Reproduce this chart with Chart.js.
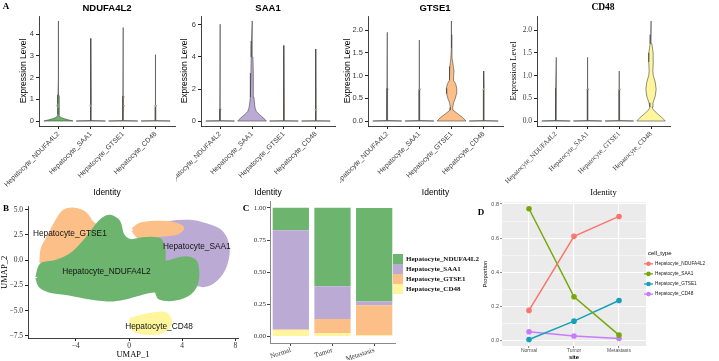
<!DOCTYPE html>
<html>
<head>
<meta charset="utf-8">
<title>Hepatocyte subclusters</title>
<script src="https://cdn.jsdelivr.net/npm/chart.js@4.4.1/dist/chart.umd.min.js"></script>
<style>
  body { margin: 0; background: #fff; }
  #fig { position: relative; width: 719px; height: 361px; overflow: hidden; }
  #fig canvas { position: absolute; }
  .txt { position: absolute; transform: translate(-50%, -50%); white-space: nowrap; color: #000; }
  .letter { font: bold 9px "Liberation Serif", "Times New Roman", serif; }
  .gtitle { font: bold 9.5px "Liberation Sans", Arial, sans-serif; }
  .gtitle.serif { font: bold 9.5px "Liberation Serif", "Times New Roman", serif; }
  #legC { position: absolute; left: 393px; top: 254px; font: bold 7px "Liberation Serif", "Times New Roman", serif; color: #111; }
  #legC div { height: 10px; display: flex; align-items: center; }
  #legC span { display: inline-block; width: 10px; height: 9.5px; margin-right: 3px; }
</style>
</head>
<body>
<div id="fig">
  <canvas id="vA1" width="176" height="200" style="left:0;top:0"></canvas>
  <canvas id="vA2" width="164" height="200" style="left:176px;top:0"></canvas>
  <canvas id="vA3" width="165" height="200" style="left:340px;top:0"></canvas>
  <canvas id="vA4" width="214" height="200" style="left:505px;top:0"></canvas>
  <canvas id="umap" width="245" height="161" style="left:0;top:200px"></canvas>
  <canvas id="bars" width="155" height="166" style="left:245px;top:195px"></canvas>
  <canvas id="lines" width="241" height="166" style="left:478px;top:195px"></canvas>

  <div class="txt letter" style="left:6px;top:6px">A</div>
  <div class="txt letter" style="left:6px;top:208px">B</div>
  <div class="txt letter" style="left:246px;top:208px">C</div>
  <div class="txt letter" style="left:481px;top:212px">D</div>

  <div class="txt gtitle" style="left:107px;top:7px">NDUFA4L2</div>
  <div class="txt gtitle" style="left:268px;top:7px">SAA1</div>
  <div class="txt gtitle" style="left:435px;top:7px">GTSE1</div>
  <div class="txt gtitle serif" style="left:603px;top:7px">CD48</div>

  <div id="legC"></div>
</div>

<script>
const SANS = '"Liberation Sans", Arial, sans-serif';
const SERIF = '"Liberation Serif", "Times New Roman", serif';

const cellTypes = ['Hepatocyte_NDUFA4L2', 'Hepatocyte_SAA1', 'Hepatocyte_GTSE1', 'Hepatocyte_CD48'];
const cellColors = ['#6DB46F', '#BBAAD4', '#FBBF87', '#FFF59C'];
const lineColors = ['#F8766D', '#76A80A', '#17A0BA', '#C77CFF'];
const sites = ['Normal', 'Tumor', 'Metastasis'];

// proportion of each hepatocyte subcluster per site (panel C and D)
const propNDUFA4L2 = [0.175, 0.61, 0.727];
const propSAA1 = [0.772, 0.255, 0.03];
const propGTSE1 = [0.004, 0.112, 0.233];
const propCD48 = [0.05, 0.025, 0.01];

// violin outlines: expression levels and relative half-widths, one row per identity
const ndufa4l2Levels = [
  [0, 0.05, 0.1, 0.15, 0.2, 0.3, 0.6, 0.7, 0.8, 1.0, 1.1, 1.2, 2.0, 3.0, 4.6],
  [0, 0.02, 0.65, 0.7, 0.75, 3.8],
  [0, 0.02, 0.65, 0.7, 0.75, 1.05, 1.1, 1.15, 4.3],
  [0, 0.02, 0.65, 0.7, 0.75, 3.05]
];
const ndufa4l2Widths = [
  [1, 0.7, 0.42, 0.22, 0.1, 0.04, 0.04, 0.1, 0.04, 0.04, 0.08, 0.03, 0.025, 0.02, 0],
  [1, 0.02, 0.02, 0.06, 0.02, 0],
  [1, 0.02, 0.02, 0.08, 0.02, 0.02, 0.07, 0.02, 0],
  [1, 0.02, 0.02, 0.06, 0.02, 0]
];
const saa1Levels = [
  [0, 0.02, 0.65, 0.7, 0.75, 6.05],
  [0, 0.1, 0.2, 0.3, 0.4, 0.5, 0.6, 0.8, 1.0, 1.5, 2.0, 3.0, 4.0, 5.0, 6.25],
  [0, 0.02, 0.65, 0.7, 0.75, 4.72],
  [0, 0.02, 0.65, 0.7, 0.75, 1.05, 1.1, 1.15, 4.5]
];
const saa1Widths = [
  [1, 0.02, 0.02, 0.06, 0.02, 0],
  [1, 0.9, 0.78, 0.65, 0.52, 0.4, 0.3, 0.22, 0.18, 0.13, 0.1, 0.08, 0.06, 0.04, 0],
  [1, 0.02, 0.02, 0.06, 0.02, 0],
  [1, 0.02, 0.02, 0.06, 0.02, 0.02, 0.05, 0.02, 0]
];
const gtse1Levels = [
  [0, 0.01, 0.68, 0.7, 0.72, 1.95],
  [0, 0.01, 0.68, 0.7, 0.72, 1.78],
  [0, 0.08, 0.16, 0.24, 0.3, 0.4, 0.5, 0.6, 0.72, 0.82, 0.9, 1.0, 1.1, 1.2, 1.35, 1.6, 1.9, 2.2],
  [0, 0.01, 0.68, 0.7, 0.72, 1.1]
];
const gtse1Widths = [
  [1, 0.02, 0.02, 0.06, 0.02, 0],
  [1, 0.02, 0.02, 0.06, 0.02, 0],
  [1, 0.75, 0.42, 0.1, 0.08, 0.14, 0.26, 0.34, 0.36, 0.28, 0.12, 0.14, 0.17, 0.12, 0.06, 0.03, 0.015, 0],
  [1, 0.02, 0.02, 0.06, 0.02, 0]
];
const cd48Levels = [
  [0, 0.01, 0.68, 0.7, 0.72, 1.4],
  [0, 0.01, 0.68, 0.7, 0.72, 1.4],
  [0, 0.01, 0.68, 0.7, 0.72, 1.1],
  [0, 0.08, 0.16, 0.25, 0.31, 0.4, 0.55, 0.7, 0.85, 1.0, 1.1, 1.3, 1.5, 1.7, 1.9, 2.2]
];
const cd48Widths = [
  [1, 0.02, 0.02, 0.06, 0.02, 0],
  [1, 0.02, 0.02, 0.06, 0.02, 0],
  [1, 0.02, 0.02, 0.06, 0.02, 0],
  [1, 0.75, 0.45, 0.15, 0.08, 0.14, 0.3, 0.36, 0.3, 0.16, 0.13, 0.16, 0.15, 0.06, 0.02, 0]
];
const ndufa4l2Ticks = [0, 1, 2, 3, 4];
const saa1Ticks = [0, 2, 4, 6];
const gtse1Ticks = [0, 0.5, 1, 1.5, 2];
const cd48Ticks = [0, 0.5, 1, 1.5, 2];

// UMAP cluster outlines (UMAP_1, UMAP_2)
const umapNDUFA4L2 = [[-6.9,-1.7],[-6.6,-0.5],[-5.6,-0.2],[-4.8,0.2],[-4.1,0.8],[-3.3,1.9],[-2.6,3.1],[-2.0,4.0],[-1.4,4.3],[-0.8,3.8],[-0.5,2.5],[0.1,1.9],[1.2,2.1],[2.3,2.0],[2.6,1.0],[2.7,-0.2],[4.2,0.2],[5.0,-0.2],[5.1,-2.0],[4.6,-3.2],[3.5,-3.8],[2.3,-3.7],[2.0,-3.0],[0.8,-3.3],[-0.3,-3.7],[-1.4,-3.9],[-2.9,-3.7],[-4.5,-3.3],[-6.0,-3.0],[-6.7,-2.5],[-6.9,-1.7]];
const umapSAA1 = [[1.6,1.9],[2.0,3.1],[3.1,3.7],[4.6,3.8],[5.7,3.5],[6.9,2.8],[7.4,1.4],[7.3,-0.2],[6.8,-1.5],[5.9,-2.4],[5.1,-2.3],[4.7,-0.6],[3.3,0.0],[2.2,-0.1],[1.6,0.6],[1.6,1.9]];
const umapGTSE1 = [[-6.6,-0.3],[-6.5,1.1],[-6.0,2.4],[-5.4,3.9],[-4.9,4.8],[-4.1,5.0],[-3.3,4.6],[-2.8,3.7],[-2.2,3.1],[-1.7,2.4],[-2.6,1.9],[-3.7,0.9],[-4.8,0.2],[-6.0,-0.4],[-6.6,-0.3]];
const umapGTSE1b = [[0.3,3.0],[0.8,3.5],[2.0,3.7],[3.3,3.6],[4.0,3.2],[3.6,2.7],[2.3,2.5],[0.8,2.3],[0.3,3.0]];
const umapCD48 = [[0.1,-5.9],[1.2,-5.5],[2.7,-5.3],[3.1,-6.1],[2.7,-6.9],[1.6,-7.2],[0.4,-6.9],[0.1,-5.9]];
const umapLabelX = [-1.7, 5.1, -4.45, 2.26];
const umapLabelY = [-1.17, 1.29, 2.64, -6.58];
const umapXTicks = [-4, 0, 4, 8];
const umapYTicks = [-7.5, -5, -2.5, 0, 2.5, 5];

const barTicks = [0, 0.25, 0.5, 0.75, 1];
const propTicks = [0, 0.2, 0.4, 0.6, 0.8];
const propMinor = [0.1, 0.3, 0.5, 0.7];

Chart.defaults.animation = false;
Chart.defaults.events = [];
Chart.defaults.plugins.legend.display = false;
Chart.defaults.plugins.tooltip.enabled = false;
Chart.defaults.elements.point.radius = 0;

const minus = v => String(v).replace('-', '\u2212');

function violinOutline(pos, levels, widths) {
  const half = 0.45;
  const right = levels.map((y, k) => ({ x: pos + widths[k] * half, y }));
  const left = levels.map((y, k) => ({ x: pos - widths[k] * half, y })).reverse();
  const pts = right.concat(left);
  pts.push(pts[0]);
  return pts;
}

function violinPanel(id, levelSets, widthSets, yMin, yMax, yTicks, decimals, font, box) {
  const datasets = levelSets.map((levels, i) => ({
    data: violinOutline(i, levels, widthSets[i]),
    fill: 'shape',
    backgroundColor: cellColors[i],
    borderColor: '#444',
    borderWidth: 0.6,
    tension: 0
  }));
  new Chart(document.getElementById(id), {
    type: 'line',
    data: { datasets },
    options: {
      responsive: false,
      layout: { padding: box.pad },
      scales: {
        x: {
          type: 'linear', min: -0.6, max: 3.6,
          afterBuildTicks: s => { s.ticks = cellTypes.map((c, i) => ({ value: i })); },
          afterFit: s => { s.height = box.xH; s.paddingLeft = 0; s.paddingRight = 0; },
          ticks: {
            callback: v => cellTypes[v], autoSkip: false, minRotation: 45, maxRotation: 45,
            font: { family: font, size: 7 }, color: '#3a3a3a', padding: 1
          },
          grid: { drawOnChartArea: false, tickLength: 3, color: '#222' },
          border: { color: '#111', width: 0.8 },
          title: { display: true, text: 'Identity', font: { family: font, size: 8.5 }, color: '#000', padding: 0 }
        },
        y: {
          min: yMin, max: yMax,
          afterBuildTicks: s => { s.ticks = yTicks.map(v => ({ value: v })); },
          afterFit: s => { s.width = box.yW; s.paddingTop = 0; s.paddingBottom = 0; },
          ticks: { callback: v => v.toFixed(decimals), font: { family: font, size: 7.5 }, color: '#3a3a3a', padding: 2 },
          grid: { drawOnChartArea: false, tickLength: 3, color: '#222' },
          border: { color: '#111', width: 0.8 },
          title: { display: true, text: 'Expression Level', font: { family: font, size: 8.5 }, color: '#000', padding: 0 }
        }
      }
    }
  });
}

violinPanel('vA1', ndufa4l2Levels, ndufa4l2Widths, -0.23, 4.83, ndufa4l2Ticks, 0, SANS,
  { pad: { left: 19, right: 1, top: 16, bottom: 2 }, yW: 20, xH: 72 });
violinPanel('vA2', saa1Levels, saa1Widths, -0.31, 6.56, saa1Ticks, 0, SANS,
  { pad: { left: 4, right: 5, top: 16, bottom: 2 }, yW: 21, xH: 72 });
violinPanel('vA3', gtse1Levels, gtse1Widths, -0.11, 2.31, gtse1Ticks, 1, SANS,
  { pad: { left: 3, right: 2, top: 16, bottom: 2 }, yW: 25, xH: 72 });
violinPanel('vA4', cd48Levels, cd48Widths, -0.11, 2.31, cd48Ticks, 1, SERIF,
  { pad: { left: 4, right: 49, top: 16, bottom: 2 }, yW: 28, xH: 72 });

// panel B: UMAP
const toXY = arr => arr.map(p => ({ x: p[0], y: p[1] }));
const umapShape = (pts, color) => ({
  data: toXY(pts), fill: 'shape', backgroundColor: color, borderColor: color,
  borderWidth: 4, borderJoinStyle: 'round', tension: 0.3
});
const umapLabels = {
  id: 'umapLabels',
  afterDatasetsDraw(chart) {
    const { ctx, scales: { x, y } } = chart;
    ctx.save();
    ctx.font = '8.3px ' + SANS;
    ctx.fillStyle = '#111';
    ctx.textAlign = 'center';
    ctx.textBaseline = 'middle';
    cellTypes.forEach((t, i) => ctx.fillText(t, x.getPixelForValue(umapLabelX[i]), y.getPixelForValue(umapLabelY[i])));
    ctx.restore();
  }
};
new Chart(document.getElementById('umap'), {
  type: 'line',
  data: {
    datasets: [
      umapShape(umapCD48, cellColors[3]),
      umapShape(umapNDUFA4L2, cellColors[0]),
      umapShape(umapGTSE1b, cellColors[2]),
      umapShape(umapGTSE1, cellColors[2]),
      umapShape(umapSAA1, cellColors[1])
    ]
  },
  options: {
    responsive: false,
    layout: { padding: { left: 0, right: 7, top: 6.7, bottom: 1 } },
    scales: {
      x: {
        type: 'linear', min: -7.6, max: 8.2,
        afterBuildTicks: s => { s.ticks = umapXTicks.map(v => ({ value: v })); },
        afterFit: s => { s.height = 22; s.paddingLeft = 0; s.paddingRight = 0; },
        ticks: { callback: v => minus(v), font: { family: SERIF, size: 7.5 }, color: '#333', padding: 1 },
        grid: { drawOnChartArea: false, tickLength: 3, color: '#222' },
        border: { color: '#111', width: 0.8 },
        title: { display: true, text: 'UMAP_1', font: { family: SERIF, size: 8.5 }, color: '#000', padding: 0 }
      },
      y: {
        min: -7.7, max: 5.3,
        afterBuildTicks: s => { s.ticks = umapYTicks.map(v => ({ value: v })); },
        afterFit: s => { s.width = 28; s.paddingTop = 0; s.paddingBottom = 0; },
        ticks: { callback: v => minus(v.toFixed(1)), font: { family: SERIF, size: 7.5 }, color: '#333', padding: 2 },
        grid: { drawOnChartArea: false, tickLength: 3, color: '#222' },
        border: { color: '#111', width: 0.8 },
        title: { display: true, text: 'UMAP_2', font: { family: SERIF, size: 8.5 }, color: '#000', padding: 0 }
      }
    }
  },
  plugins: [umapLabels]
});

// panel C: stacked proportions
new Chart(document.getElementById('bars'), {
  type: 'bar',
  data: {
    labels: sites,
    datasets: [
      { label: cellTypes[3], data: propCD48, backgroundColor: cellColors[3] },
      { label: cellTypes[2], data: propGTSE1, backgroundColor: cellColors[2] },
      { label: cellTypes[1], data: propSAA1, backgroundColor: cellColors[1] },
      { label: cellTypes[0], data: propNDUFA4L2, backgroundColor: cellColors[0] }
    ]
  },
  options: {
    responsive: false,
    layout: { padding: { left: 4, right: 5, top: 6.5, bottom: 1 } },
    datasets: { bar: { barPercentage: 0.87, categoryPercentage: 1, borderWidth: 0 } },
    scales: {
      x: {
        stacked: true,
        afterFit: s => { s.height = 17; s.paddingLeft = 0; s.paddingRight = 0; },
        ticks: { font: { family: SERIF, size: 7 }, color: '#333', minRotation: 18, maxRotation: 18, padding: 0 },
        grid: { offset: false, drawOnChartArea: false, tickLength: 3, color: '#444' },
        border: { color: '#8a8a8a', width: 1 }
      },
      y: {
        stacked: true, min: -0.05, max: 1.05,
        afterBuildTicks: s => { s.ticks = barTicks.map(v => ({ value: v })); },
        afterFit: s => { s.width = 21; s.paddingTop = 0; s.paddingBottom = 0; },
        ticks: { callback: v => v.toFixed(2), font: { family: SERIF, size: 7 }, color: '#333', padding: 1 },
        grid: { drawOnChartArea: false, tickLength: 3, color: '#444' },
        border: { color: '#8a8a8a', width: 1 }
      }
    }
  }
});

const legC = document.getElementById('legC');
cellTypes.forEach((name, i) => {
  const row = document.createElement('div');
  const key = document.createElement('span');
  key.style.background = cellColors[i];
  row.appendChild(key);
  row.appendChild(document.createTextNode(name));
  legC.appendChild(row);
});

// panel D: proportion by site
const panelBg = {
  id: 'panelBg',
  beforeDraw(chart) {
    const { ctx, chartArea: a } = chart;
    ctx.save();
    ctx.fillStyle = '#EBEBEB';
    ctx.fillRect(a.left, a.top, a.width, a.height);
    ctx.restore();
  }
};
const cellTypeLegend = {
  id: 'cellTypeLegend',
  afterDraw(chart) {
    const { ctx, chartArea: a } = chart;
    ctx.save();
    ctx.textBaseline = 'middle';
    ctx.fillStyle = '#000';
    ctx.font = '6px ' + SANS;
    ctx.fillText('cell_type', a.right + 2, a.top + 51);
    ctx.font = '4.7px ' + SANS;
    cellTypes.forEach((name, i) => {
      const y = a.top + 61.5 + i * 10.1;
      ctx.strokeStyle = lineColors[i];
      ctx.lineWidth = 1.3;
      ctx.beginPath(); ctx.moveTo(a.right - 2, y); ctx.lineTo(a.right + 7, y); ctx.stroke();
      ctx.fillStyle = lineColors[i];
      ctx.beginPath(); ctx.arc(a.right + 2.5, y, 2.3, 0, Math.PI * 2); ctx.fill();
      ctx.fillStyle = '#1a1a1a';
      ctx.fillText(name, a.right + 9, y);
    });
    ctx.restore();
  }
};
const isMajor = v => propTicks.some(t => Math.abs(t - v) < 1e-6);
const lineSeries = [propNDUFA4L2, propSAA1, propGTSE1, propCD48];
new Chart(document.getElementById('lines'), {
  type: 'line',
  data: {
    datasets: lineSeries.map((vals, i) => ({
      label: cellTypes[i],
      data: vals.map((v, k) => ({ x: k, y: v })),
      borderColor: lineColors[i],
      backgroundColor: lineColors[i],
      borderWidth: 1.5,
      pointRadius: 2.8,
      pointBorderWidth: 0,
      fill: false
    }))
  },
  options: {
    responsive: false,
    layout: { padding: { left: 4, right: 73, top: 7.3, bottom: 0 } },
    scales: {
      x: {
        type: 'linear', min: -0.6, max: 2.6,
        afterBuildTicks: s => { s.ticks = sites.map((c, i) => ({ value: i })); },
        afterFit: s => { s.height = 15; s.paddingLeft = 0; s.paddingRight = 0; },
        ticks: { callback: v => sites[v], font: { family: SANS, size: 5 }, color: '#4d4d4d', padding: 0, maxRotation: 0 },
        grid: { color: '#fff', lineWidth: 1.1, tickLength: 2, tickColor: '#333', tickWidth: 0.6 },
        border: { display: false },
        title: { display: true, text: 'site', font: { family: SANS, size: 5.8, weight: 'bold' }, color: '#000', padding: 0 }
      },
      y: {
        min: -0.034, max: 0.81,
        afterBuildTicks: s => { s.ticks = propTicks.concat(propMinor).sort((a, b) => a - b).map(v => ({ value: v })); },
        afterFit: s => { s.width = 20; s.paddingTop = 0; s.paddingBottom = 0; },
        ticks: { callback: v => isMajor(v) ? v.toFixed(1) : '', font: { family: SANS, size: 5.5 }, color: '#4d4d4d', padding: 1 },
        grid: {
          color: '#fff',
          lineWidth: c => (c.tick && isMajor(c.tick.value)) ? 1.1 : 0.5,
          tickLength: 2,
          tickColor: c => (c.tick && isMajor(c.tick.value)) ? '#333' : 'rgba(0,0,0,0)',
          tickWidth: 0.6
        },
        border: { display: false },
        title: { display: true, text: 'Proportion', font: { family: SANS, size: 5.8 }, color: '#000', padding: 0 }
      }
    }
  },
  plugins: [panelBg, cellTypeLegend]
});
</script>
</body>
</html>
